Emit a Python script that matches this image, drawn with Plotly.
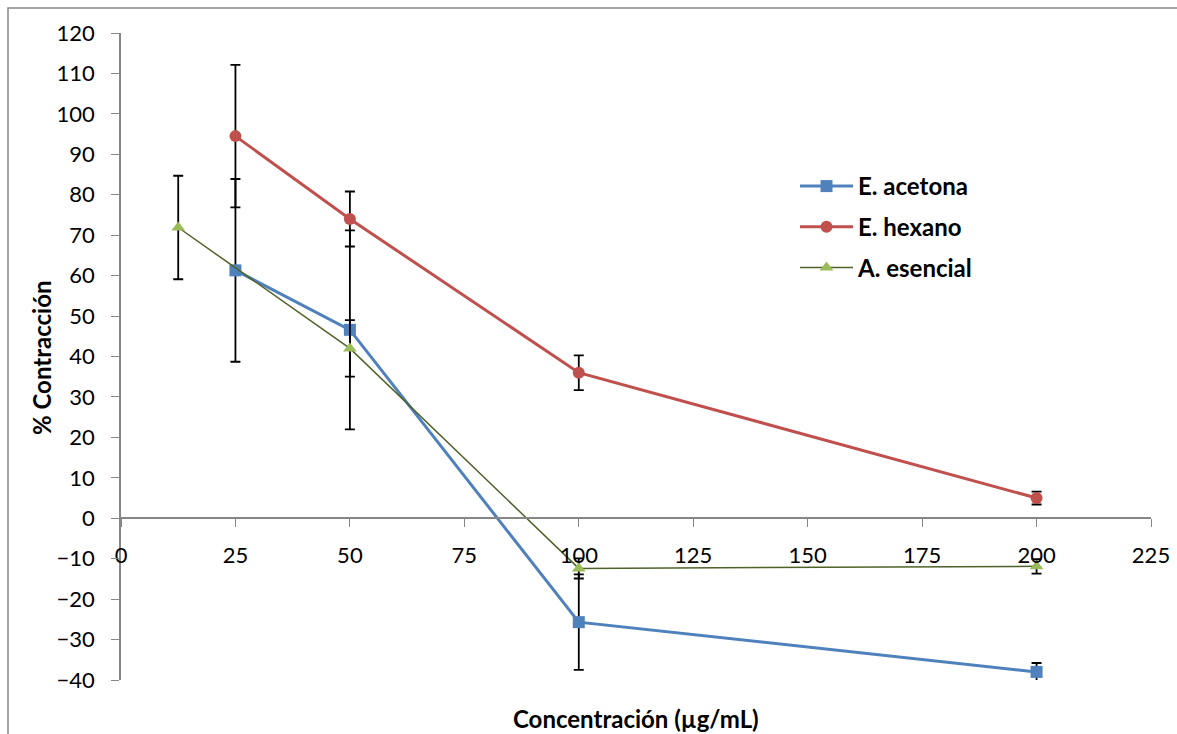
import plotly.graph_objects as go

# Concentrations (µg/mL) and % contraction with standard deviations
conc_acetona = [25, 50, 100, 200]
val_acetona = [61.3, 46.6, -25.7, -38.0]
err_acetona = [22.6, 24.6, 11.8, 2.2]

conc_hexano = [25, 50, 100, 200]
val_hexano = [94.5, 74.0, 36.0, 5.0]
err_hexano = [17.6, 6.8, 4.3, 1.6]

conc_esencial = [12.5, 50, 100, 200]
val_esencial = [71.9, 42.0, -12.4, -11.9]
err_esencial = [12.8, 7.0, 2.5, 1.8]

x_ticks = [0, 25, 50, 75, 100, 125, 150, 175, 200, 225]
y_ticks = list(range(-40, 121, 10))

FONT = "Lato"
GREY = "#868686"

# plot area in pixels
L, R, T, B = 121, 26, 33, 54
W, H = 1177, 734
PW, PH = W - L - R, H - T - B

fig = go.Figure()

def err(vals):
    return dict(type="data", array=vals, visible=True, color="black",
                thickness=1.8, width=5)

fig.add_trace(go.Scatter(
    x=conc_acetona, y=val_acetona, name="E. acetona", mode="lines+markers",
    line=dict(color="#4F81BD", width=3),
    marker=dict(symbol="square", size=12, color="#4F81BD"),
    error_y=err(err_acetona), legendgroup="a"))

fig.add_trace(go.Scatter(
    x=conc_hexano, y=val_hexano, name="E. hexano", mode="lines+markers",
    line=dict(color="#C0504D", width=3),
    marker=dict(symbol="circle", size=12, color="#C0504D"),
    error_y=err(err_hexano), legendgroup="b"))

fig.add_trace(go.Scatter(
    x=conc_esencial, y=val_esencial, name="A. esencial", mode="lines+markers",
    line=dict(color="#4F6228", width=1.5),
    marker=dict(symbol="triangle-up", size=12, color="#9BBB59"),
    error_y=err(err_esencial), legendgroup="c"))

ymin, ymax = -40, 120
fig.update_layout(
    width=W, height=H,
    margin=dict(l=L, r=R, t=T, b=B, autoexpand=False),
    paper_bgcolor="white", plot_bgcolor="white",
    font=dict(family=FONT, size=22, color="black"),
    showlegend=True,
    legend=dict(
        x=(795 - L) / PW, y=1 - (164 - T) / PH, xanchor="left", yanchor="top",
        font=dict(family=FONT, size=24, color="black", weight="bold"),
        tracegroupgap=6.5, itemwidth=53, bgcolor="rgba(0,0,0,0)",
    ),
    xaxis=dict(
        range=[0, 225], tickvals=x_ticks, ticks="outside", ticklen=8,
        tickcolor=GREY, showline=True, linecolor=GREY, linewidth=1.5,
        showgrid=False, zeroline=False, anchor="free", automargin=False,
        position=(0 - ymin) / (ymax - ymin),
        tickfont=dict(family=FONT, size=22),
        ticklabelstandoff=10,
    ),
    yaxis=dict(
        range=[ymin, ymax], tickvals=y_ticks, ticks="outside", ticklen=8,
        tickcolor=GREY, showline=True, linecolor=GREY, linewidth=1.5,
        showgrid=False, zeroline=False, automargin=False,
        tickfont=dict(family=FONT, size=22),
        ticklabelstandoff=12,
    ),
    annotations=[
        dict(text="Concentración (µg/mL)", xref="paper", yref="paper",
             x=0.5, y=(T + PH - 718) / PH, xanchor="center", yanchor="middle",
             showarrow=False,
             font=dict(family=FONT, size=24, weight="bold")),
        dict(text="% Contracción", xref="paper", yref="paper",
             x=(41 - L) / PW, y=1 - (358 - T) / PH, xanchor="center",
             yanchor="middle", textangle=-90, showarrow=False,
             font=dict(family=FONT, size=24, weight="bold")),
    ],
    shapes=[dict(type="rect", xref="paper", yref="paper",
                 x0=(8 - L) / PW, x1=1.2, y0=-0.3, y1=1 + (T - 8) / PH,
                 line=dict(color=GREY, width=1.5), layer="below")],
)

fig.write_html("out.html")
